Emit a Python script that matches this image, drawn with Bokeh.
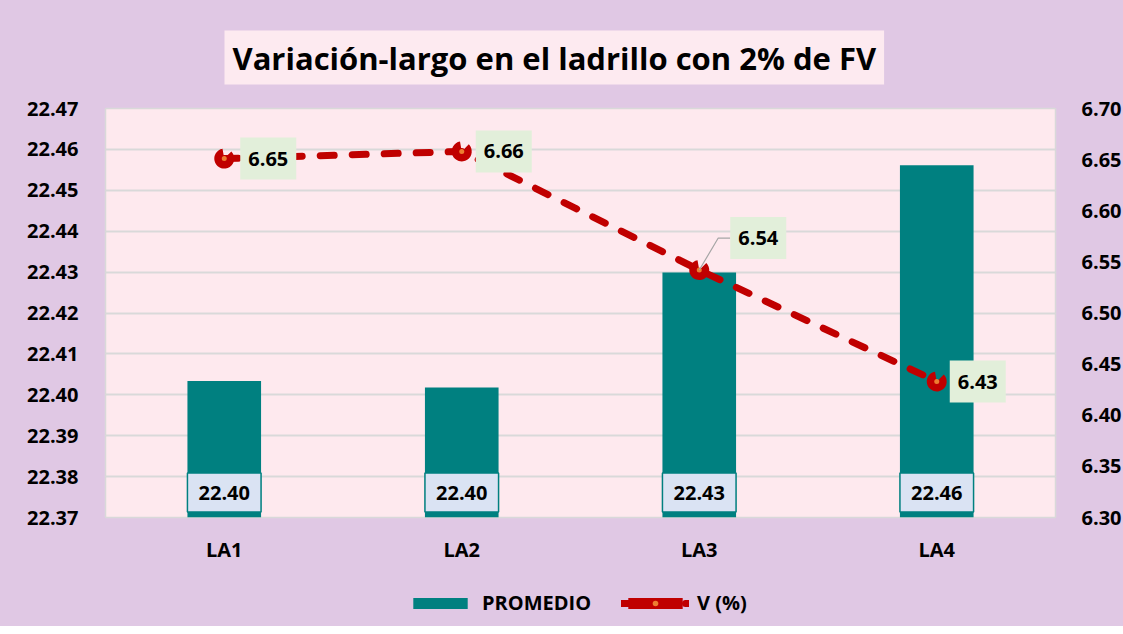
import math
from bokeh.plotting import figure
from bokeh.layouts import column
from bokeh.models import (ColumnDataSource, Range1d, LinearAxis, FixedTicker,
                          PrintfTickFormatter, Legend, LegendItem, Title)
from bokeh.core.properties import value
from bokeh.embed import file_html
from bokeh.resources import INLINE

# ---- data ----
categories = ["LA1", "LA2", "LA3", "LA4"]
promedio = [22.4034, 22.4018, 22.4299, 22.4561]
variacion = [6.651, 6.658, 6.542, 6.433]
left_ticks = [22.37, 22.38, 22.39, 22.40, 22.41, 22.42, 22.43, 22.44, 22.45, 22.46, 22.47]
right_ticks = [6.30, 6.35, 6.40, 6.45, 6.50, 6.55, 6.60, 6.65, 6.70]
title_text = "Variación-largo en el ladrillo con 2% de FV"
series_names = ["PROMEDIO", "V (%)"]

# ---- style ----
FONT = "Open Sans"
LAVENDER = "#E0C8E4"
PINK = "#FEE9EE"
TEAL = "#008080"
RED = "#C00000"
ORANGE = "#ED7D31"
GRID = "#D9D9D9"

y0, y1 = left_ticks[0], left_ticks[-1]
r0, r1 = right_ticks[0], right_ticks[-1]
FRAME_W, FRAME_H = 950, 409
TOTAL_W = 1123

p = figure(x_range=categories, y_range=Range1d(y0, y1),
           width=TOTAL_W, height=575, frame_width=FRAME_W, frame_height=FRAME_H,
           min_border_left=105, min_border_right=TOTAL_W - 105 - FRAME_W,
           min_border_top=108, min_border_bottom=575 - 108 - FRAME_H,
           output_backend="svg", toolbar_location=None)
p.extra_y_ranges = {"v": Range1d(r0, r1)}

p.background_fill_color = PINK
p.border_fill_color = LAVENDER
p.outline_line_color = GRID
p.outline_line_width = 1.5
p.xgrid.grid_line_color = None
p.ygrid.grid_line_color = GRID
p.ygrid.grid_line_width = 2
p.ygrid.ticker = FixedTicker(ticks=left_ticks)

# title
t = Title(text=title_text, align="left", offset=119,
          text_font=FONT, text_font_size="31px", text_font_style="bold",
          text_color="#000000", background_fill_color="#FDEAF0",
          standoff=48, padding=(8, 6))
p.title = t

# axes
def style_axis(ax):
    ax.axis_line_color = None
    ax.major_tick_line_color = None
    ax.minor_tick_line_color = None
    ax.major_label_text_font = FONT
    ax.major_label_text_font_style = "bold"
    ax.major_label_text_font_size = "20px"
    ax.major_label_text_color = "#000000"

p.yaxis.ticker = FixedTicker(ticks=left_ticks)
p.yaxis.formatter = PrintfTickFormatter(format="%.2f")
style_axis(p.yaxis[0])
p.yaxis.major_label_standoff = 21

ax_r = LinearAxis(y_range_name="v", ticker=FixedTicker(ticks=right_ticks),
                  formatter=PrintfTickFormatter(format="%.2f"))
style_axis(ax_r)
ax_r.major_label_standoff = 20
p.add_layout(ax_r, "right")

style_axis(p.xaxis[0])
p.xaxis.major_label_standoff = 12

# bars
src = ColumnDataSource(dict(
    x=categories, top=promedio,
    base=[y0] * len(categories),
    lbl=["%.2f" % v for v in promedio],
    ly=[y0 + (y1 - y0) * 25.0 / FRAME_H] * len(categories),
))
p.vbar(x="x", top="top", bottom="base", width=0.31, source=src,
       fill_color=TEAL, line_color=None)
p.rect(x="x", y="ly", width=0.31, height=39, height_units="screen", source=src,
       fill_color="#DAE3F3", line_color=TEAL, line_width=1.5)
p.text(x="x", y="ly", text="lbl", source=src, text_align="center", text_baseline="middle",
       text_font=value(FONT), text_font_style="bold", text_font_size="20px", text_color="#000000")

# line series
vsrc = ColumnDataSource(dict(
    x=categories, y=variacion,
    lbl=["%.2f" % v for v in variacion],
    xo=[16, 14, 31, 13],
    yo=[0, 0, -32, 0],
))
LINE_KW = dict(line_color=RED, line_width=7, line_dash="14 18", line_cap="round")
WEDGE_KW = dict(radius=10, radius_units="screen", start_angle=math.radians(100),
                end_angle=math.radians(45), direction="anticlock", fill_color=RED, line_color=None)
DOT_KW = dict(size=5, fill_color=ORANGE, line_color=None)

p.line(x="x", y="y", source=vsrc, y_range_name="v", **LINE_KW)
p.wedge(x="x", y="y", source=vsrc, y_range_name="v", **WEDGE_KW)
p.scatter(x="x", y="y", source=vsrc, y_range_name="v", **DOT_KW)

# leader line for LA3 label
v3 = variacion[2]
dy = (r1 - r0) * 32.0 / FRAME_H
p.line(x=[("LA3", 0.0), ("LA3", 0.08), ("LA3", 0.13)], y=[v3, v3 + dy, v3 + dy],
       y_range_name="v", line_color="#A6A6A6", line_width=1.2)

p.text(x="x", y="y", text="lbl", x_offset="xo", y_offset="yo", source=vsrc, y_range_name="v",
       text_align="left", text_baseline="middle", text_font=value(FONT),
       text_font_style="bold", text_font_size="20px", text_color="#000000",
       background_fill_color="#E2EFDA", padding=(8, 14))

# legend strip (separate figure so that it is not clipped)
LEG_H = 51
q = figure(width=TOTAL_W, height=LEG_H, x_range=Range1d(0, 1), y_range=Range1d(0, 1),
           x_axis_type=None, y_axis_type=None, min_border=0,
           output_backend="svg", toolbar_location=None)
q.background_fill_color = None
q.border_fill_color = LAVENDER
q.outline_line_color = None
q.grid.grid_line_color = None
# legend-only renderers: one point placed outside the strip's visible range
hidden = ColumnDataSource(dict(x=[-5], y=[-5], top=[-4]))
lb = q.vbar(x="x", top="top", bottom="y", width=0.1, source=hidden, fill_color=TEAL, line_color=None)
ll = q.line(x="x", y="y", source=hidden, **LINE_KW)
lw = q.wedge(x="x", y="y", source=hidden, **WEDGE_KW)
ld = q.scatter(x="x", y="y", source=hidden, **DOT_KW)

legend = Legend(items=[LegendItem(label=series_names[0], renderers=[lb]),
                       LegendItem(label=series_names[1], renderers=[ll, lw, ld])],
                orientation="horizontal", location=(301, 10),
                glyph_width=68, glyph_height=14, label_standoff=8, spacing=30,
                padding=0, margin=0, border_line_color=None, background_fill_alpha=0,
                label_text_font=FONT, label_text_font_style="bold", label_text_font_size="20px",
                label_text_color="#000000")
q.add_layout(legend, "center")

layout = column(p, q, spacing=0, styles={"background-color": LAVENDER})
open("out.html", "w").write(file_html(layout, INLINE))
